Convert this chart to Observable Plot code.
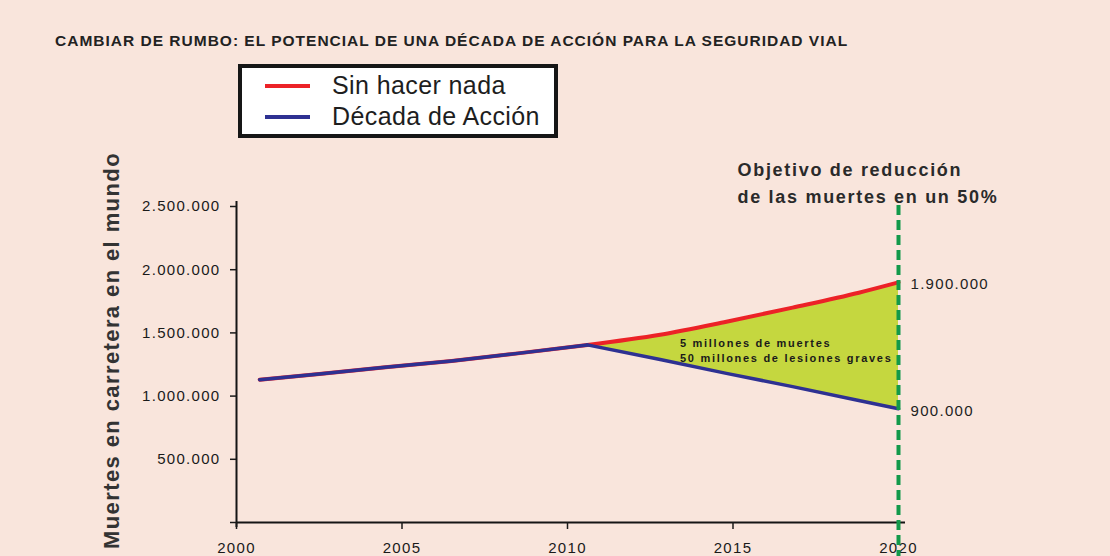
<!DOCTYPE html>
<html>
<head>
<meta charset="utf-8">
<script src="https://cdn.jsdelivr.net/npm/d3@7"></script>
<script src="https://cdn.jsdelivr.net/npm/@observablehq/plot@0.6"></script>
<style>
html, body { margin: 0; padding: 0; background: #f9e5dc; }
#wrap { position: relative; width: 1110px; height: 556px; overflow: hidden; background: #f9e5dc; font-family: "Liberation Sans", Arial, sans-serif; }
#chart { position: absolute; left: 0; top: 0; }
#title { position: absolute; left: 55px; top: 33px; font-size: 15.5px; line-height: 15.5px; font-weight: bold; letter-spacing: 1px; color: #222; white-space: nowrap; }
#legend { position: absolute; left: 238px; top: 64px; width: 320px; height: 74px; box-sizing: border-box; border: 4px solid #161616; background: #fff; }
.sw { position: absolute; left: 23px; width: 45px; height: 4px; }
.lt { position: absolute; left: 90px; font-size: 25px; line-height: 25px; letter-spacing: 0.4px; color: #1e1e1e; white-space: nowrap; }
g[aria-label="y-axis tick label"] text, g[aria-label="x-axis tick label"] text { letter-spacing: 1.3px; }
</style>
</head>
<body>
<div id="wrap">
  <div id="chart"></div>
  <div id="title"></div>
  <div id="legend"></div>
</div>
<script>
// ---- data ----
const titleText = "CAMBIAR DE RUMBO: EL POTENCIAL DE UNA DÉCADA DE ACCIÓN PARA LA SEGURIDAD VIAL";
const yTitle = "Muertes en carretera en el mundo";
const targetNote = "Objetivo de reducción\nde las muertes en un 50%";
const areaNote = "5 millones de muertes\n50 millones de lesiones graves";

const seriesNames = ["Sin hacer nada", "Década de Acción"];
const seriesColors = ["#ec2227", "#2e3192"];

// shared history (both series)
const years = [2000.7, 2002.5, 2004.5, 2006.5, 2008.5, 2010.6];
const deaths = [1130000, 1175000, 1228000, 1278000, 1338000, 1405000];

// projections
const projYears = [2010.6, 2012.8, 2014.8, 2016.8, 2018.8, 2020];
const sinHacerNada = [1405000, 1485000, 1588000, 1700000, 1818000, 1900000];
const decadaAccion = [1405000, 1290000, 1180000, 1075000, 965000, 900000];

const targetYear = 2020;
const endValues = [1900000, 900000];

const xTicks = [2000, 2005, 2010, 2015, 2020];
const yTicks = [0, 500000, 1000000, 1500000, 2000000, 2500000];

// ---- tables ----
const history = years.map((y, i) => ({year: y, value: deaths[i]}));
const redProj = projYears.map((y, i) => ({year: y, value: sinHacerNada[i]}));
const blueProj = projYears.map((y, i) => ({year: y, value: decadaAccion[i]}));
const gapData = projYears.map((y, i) => ({year: y, low: decadaAccion[i], high: sinHacerNada[i]}));
const endData = endValues.map(v => ({year: targetYear, value: v}));

const loc = d3.formatLocale({decimal: ",", thousands: ".", grouping: [3], currency: ["", ""]});
const fmt = loc.format(",d");

const chart = Plot.plot({
  width: 1110,
  height: 556,
  marginLeft: 236,
  marginRight: 212,
  marginTop: 206,
  marginBottom: 34,
  x: {domain: [2000, 2020]},
  y: {domain: [0, 2500000]},
  style: {background: "transparent", fontFamily: "'Liberation Sans', Arial, sans-serif", color: "#1a1a1a", overflow: "visible"},
  marks: [
    Plot.areaY(gapData, {x: "year", y1: "low", y2: "high", fill: "#c5d73f", curve: "monotone-x"}),
    Plot.line(history, {x: "year", y: "value", stroke: seriesColors[0], strokeWidth: 4}),
    Plot.line(redProj, {x: "year", y: "value", stroke: seriesColors[0], strokeWidth: 4, curve: "monotone-x"}),
    Plot.line(history, {x: "year", y: "value", stroke: seriesColors[1], strokeWidth: 3.5}),
    Plot.line(blueProj, {x: "year", y: "value", stroke: seriesColors[1], strokeWidth: 3.5}),
    Plot.ruleY([0], {insetRight: -7, stroke: "#151515", strokeWidth: 2}),
    Plot.ruleX([2000], {insetTop: -5, insetBottom: -5, stroke: "#151515", strokeWidth: 2}),
    Plot.axisY({ticks: yTicks, tickFormat: d => d === 0 ? "" : fmt(d), tickSize: 6, tickPadding: 10, fontSize: 15, strokeWidth: 1.5, label: null}),
    Plot.axisX({ticks: xTicks, tickFormat: d => String(d), tickSize: 7, tickPadding: 13, fontSize: 15, strokeWidth: 1.5, label: null}),
    Plot.ruleX([targetYear], {stroke: "#12994a", strokeWidth: 4, strokeDasharray: "10,5", insetTop: -1, insetBottom: -34}),
    Plot.text([yTitle], {text: d => d, frameAnchor: "left", textAnchor: "middle", lineAnchor: "middle", dx: -125, dy: -14, rotate: -90, fontSize: 22, fontWeight: "bold", fill: "#333"}),
    Plot.text([{year: targetYear, t: targetNote}], {x: "year", text: "t", frameAnchor: "top", dx: -161, dy: -4, textAnchor: "start", lineAnchor: "bottom", lineHeight: 1.5, fontSize: 18, fontWeight: "bold", fill: "#2a2a2a"}),
    Plot.text(endData, {x: "year", y: "value", text: d => fmt(d.value), dx: 12, dy: 2, textAnchor: "start", fontSize: 15, fill: "#222"}),
    Plot.text([{year: 2013.4, value: 1365000, t: areaNote}], {x: "year", y: "value", text: "t", textAnchor: "start", fontSize: 11, fontWeight: "bold", lineHeight: 1.36, fill: "#1a1a1a"})
  ]
});
document.getElementById("chart").appendChild(chart);

// letter spacing for the text marks (in mark order)
const textGroups = chart.querySelectorAll('g[aria-label="text"]');
const spacings = ["1.4px", "1.7px", "1.3px", "1.7px"];
textGroups.forEach((g, i) => { if (spacings[i]) g.style.letterSpacing = spacings[i]; });

// title
document.getElementById("title").textContent = titleText;

// legend
const legend = document.getElementById("legend");
const swTops = [16, 47];
const txtTops = [5, 36];
seriesNames.forEach((name, i) => {
  const sw = document.createElement("div");
  sw.className = "sw";
  sw.style.top = swTops[i] + "px";
  sw.style.background = seriesColors[i];
  legend.appendChild(sw);
  const t = document.createElement("div");
  t.className = "lt";
  t.style.top = txtTops[i] + "px";
  t.textContent = name;
  legend.appendChild(t);
});
</script>
</body>
</html>
